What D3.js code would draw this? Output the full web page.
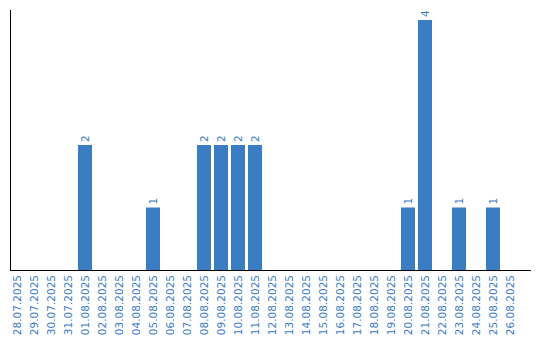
<!DOCTYPE html>
<html>
<head>
<meta charset="utf-8">
<script src="https://cdn.jsdelivr.net/npm/d3@7/dist/d3.min.js"></script>
<style>
  html, body { margin: 0; padding: 0; background: #fff; }
  svg { display: block; }
  text { font-family: "DejaVu Sans", Verdana, sans-serif; }
</style>
</head>
<body>
<svg id="chart" width="540" height="340"></svg>
<script>
const categories = [
  "28.07.2025","29.07.2025","30.07.2025","31.07.2025","01.08.2025","02.08.2025",
  "03.08.2025","04.08.2025","05.08.2025","06.08.2025","07.08.2025","08.08.2025",
  "09.08.2025","10.08.2025","11.08.2025","12.08.2025","13.08.2025","14.08.2025",
  "15.08.2025","16.08.2025","17.08.2025","18.08.2025","19.08.2025","20.08.2025",
  "21.08.2025","22.08.2025","23.08.2025","24.08.2025","25.08.2025","26.08.2025"
];
const values = [0,0,0,0,2,0,0,0,1,0,0,2,2,2,2,0,0,0,0,0,0,0,0,1,4,0,1,0,1,0];

const color = "#3b7dc3";
const svg = d3.select("#chart");

const x = d3.scaleBand().domain(categories).range([10, 517]).paddingInner(3/17).paddingOuter(0);
const y = d3.scaleLinear().domain([0, 4]).range([270, 20]);

const data = categories.map((c, i) => ({ c, v: values[i] }));

// bars
svg.append("g").selectAll("rect")
  .data(data.filter(d => d.v > 0))
  .join("rect")
  .attr("x", d => x(d.c))
  .attr("y", d => y(d.v))
  .attr("width", x.bandwidth())
  .attr("height", d => y(0) - y(d.v))
  .attr("fill", color);

// value labels
svg.append("g").selectAll("text")
  .data(data.filter(d => d.v > 0))
  .join("text")
  .attr("transform", d => `translate(${x(d.c) + x.bandwidth() / 2},${y(d.v) - 3}) rotate(-90)`)
  .attr("dy", "0.35em")
  .attr("text-anchor", "start")
  .attr("font-size", "10.5px")
  .attr("fill", color)
  .text(d => d.v);

// x axis
const xAxis = svg.append("g")
  .attr("transform", "translate(0,270)")
  .call(d3.axisBottom(x).tickSize(0).tickPadding(0));
xAxis.select(".domain").remove();
xAxis.selectAll(".tick text")
  .attr("transform", "translate(0,5) rotate(-90)")
  .attr("x", 0)
  .attr("y", 0)
  .attr("dy", "0.35em")
  .attr("text-anchor", "end")
  .attr("font-size", "10.5px")
  .attr("font-family", "DejaVu Sans, Verdana, sans-serif")
  .attr("fill", color);

// axis lines
svg.append("line")
  .attr("x1", 10).attr("x2", 531).attr("y1", 270.5).attr("y2", 270.5)
  .attr("stroke", "#000").attr("stroke-width", 1);
svg.append("line")
  .attr("x1", 10.5).attr("x2", 10.5).attr("y1", 10).attr("y2", 271)
  .attr("stroke", "#000").attr("stroke-width", 1);
</script>
</body>
</html>
